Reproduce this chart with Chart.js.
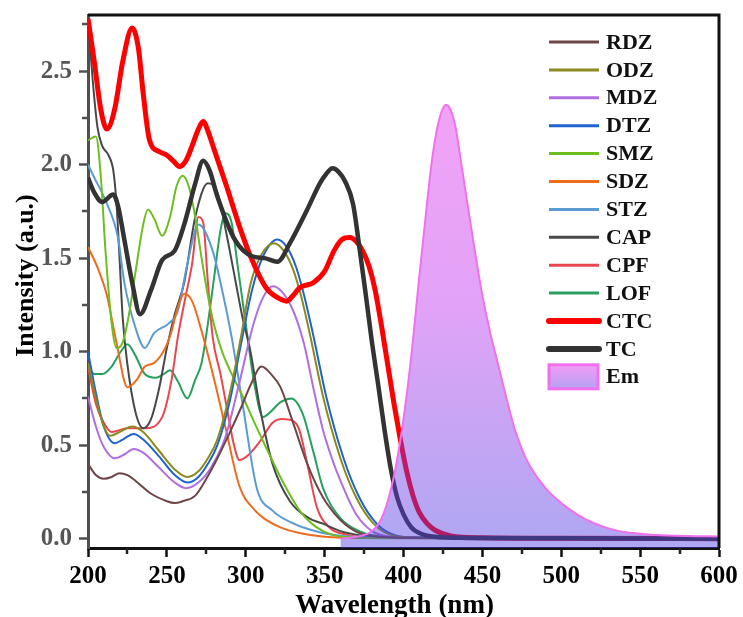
<!DOCTYPE html>
<html>
<head>
<meta charset="utf-8">
<title>UV-Vis absorption and emission spectra</title>
<script src="https://cdn.jsdelivr.net/npm/chart.js@4.4.1/dist/chart.umd.min.js"></script>
<style>
  html, body { margin: 0; padding: 0; background: #fff; }
  #spectra { display: block; }
</style>
</head>
<body>
<canvas id="spectra" width="743" height="617"></canvas>
<script>
// absorption spectra (wavelength in nm, intensity in a.u.)
const rdzWavelength = [200, 205, 210, 215, 220, 225, 230, 240, 250, 255, 260, 268, 275, 282, 290, 297, 303, 310, 316, 322, 330, 339, 349, 360, 372, 385, 400, 450, 500, 600];
const rdzIntensity  = [0.40, 0.34, 0.32, 0.33, 0.35, 0.34, 0.31, 0.24, 0.20, 0.19, 0.20, 0.23, 0.32, 0.43, 0.57, 0.70, 0.82, 0.92, 0.88, 0.81, 0.62, 0.40, 0.22, 0.10, 0.03, 0.01, 0.005, 0.003, 0.002, 0.0];

const odzWavelength = [200, 205, 210, 214, 220, 228, 235, 245, 255, 263, 270, 276, 282, 290, 297, 303, 310, 318, 324, 330, 335, 341, 349, 360, 370, 381, 392, 410, 500, 600];
const odzIntensity  = [0.94, 0.75, 0.60, 0.55, 0.57, 0.60, 0.57, 0.47, 0.37, 0.33, 0.36, 0.43, 0.53, 0.78, 1.08, 1.36, 1.52, 1.58, 1.54, 1.44, 1.30, 1.08, 0.76, 0.43, 0.22, 0.08, 0.02, 0.005, 0.002, 0.0];

const mdzWavelength = [200, 205, 210, 217, 223, 229, 235, 245, 255, 262, 270, 278, 287, 295, 305, 311, 317, 323, 330, 337, 343, 349, 355, 360, 370, 380, 392, 410, 500, 600];
const mdzIntensity  = [0.76, 0.60, 0.49, 0.43, 0.45, 0.48, 0.46, 0.38, 0.30, 0.27, 0.30, 0.38, 0.54, 0.80, 1.15, 1.29, 1.35, 1.32, 1.22, 1.04, 0.80, 0.58, 0.42, 0.31, 0.13, 0.04, 0.01, 0.004, 0.002, 0.0];

const dtzWavelength = [200, 205, 210, 217, 222, 229, 235, 245, 255, 263, 270, 276, 282, 290, 297, 304, 311, 320, 326, 332, 337, 343, 351, 362, 372, 383, 394, 410, 500, 600];
const dtzIntensity  = [1.00, 0.78, 0.60, 0.51, 0.53, 0.56, 0.53, 0.44, 0.34, 0.30, 0.33, 0.40, 0.50, 0.74, 1.04, 1.33, 1.51, 1.60, 1.56, 1.45, 1.30, 1.08, 0.76, 0.43, 0.22, 0.08, 0.02, 0.005, 0.002, 0.0];

const smzWavelength = [200, 205, 208, 211, 215, 218, 222, 226, 230, 235, 238, 242, 247, 252, 256, 260, 264, 268, 272, 276, 280, 285, 290, 297, 305, 315, 325, 335, 345, 355, 370, 400, 600];
const smzIntensity  = [2.13, 2.15, 1.95, 1.55, 1.15, 1.02, 1.05, 1.20, 1.42, 1.68, 1.76, 1.71, 1.62, 1.72, 1.88, 1.94, 1.88, 1.72, 1.50, 1.30, 1.14, 1.00, 0.90, 0.78, 0.63, 0.45, 0.28, 0.14, 0.06, 0.02, 0.005, 0.002, 0.0];

const sdzWavelength = [200, 206, 212, 218, 225, 231, 236, 242, 249, 253, 257, 261, 266, 272, 280, 287, 296, 306, 313, 322, 334, 350, 380, 600];
const sdzIntensity  = [1.56, 1.45, 1.30, 1.05, 0.81, 0.85, 0.92, 0.94, 1.02, 1.11, 1.24, 1.31, 1.27, 1.11, 0.85, 0.60, 0.28, 0.15, 0.10, 0.06, 0.03, 0.01, 0.003, 0.0];

const stzWavelength = [200, 204, 211, 219, 223, 230, 236, 242, 251, 257, 263, 270, 279, 285, 291, 298, 307, 317, 328, 340, 360, 400, 600];
const stzIntensity  = [2.00, 1.93, 1.81, 1.61, 1.37, 1.13, 1.02, 1.10, 1.15, 1.22, 1.47, 1.68, 1.54, 1.33, 1.08, 0.72, 0.27, 0.15, 0.09, 0.05, 0.015, 0.003, 0.0];

const capWavelength = [200, 203, 206, 209, 213, 216, 218, 220, 222, 225, 230, 235, 240, 245, 250, 255, 261, 268, 276, 282, 288, 293, 298, 303, 309, 317, 328, 340, 349, 360, 375, 400, 600];
const capIntensity  = [2.78, 2.45, 2.20, 2.10, 2.05, 1.97, 1.80, 1.50, 1.18, 0.93, 0.68, 0.59, 0.64, 0.80, 1.02, 1.20, 1.37, 1.72, 1.90, 1.85, 1.62, 1.40, 1.18, 1.00, 0.70, 0.40, 0.20, 0.11, 0.08, 0.04, 0.015, 0.004, 0.0];

const cpfWavelength = [200, 205, 210, 215, 225, 236, 247, 253, 257, 262, 266, 270, 273, 276, 279, 284, 288, 292, 296, 302, 309, 317, 323, 330, 334, 339, 345, 353, 365, 380, 600];
const cpfIntensity  = [0.92, 0.72, 0.62, 0.57, 0.59, 0.59, 0.65, 0.85, 1.08, 1.30, 1.47, 1.72, 1.69, 1.37, 1.08, 0.88, 0.70, 0.52, 0.42, 0.45, 0.52, 0.62, 0.64, 0.63, 0.58, 0.40, 0.17, 0.06, 0.02, 0.005, 0.0];

const lofWavelength = [200, 204, 209, 215, 220, 225, 230, 236, 243, 248, 252, 257, 263, 268, 272, 276, 280, 284, 287, 291, 295, 300, 305, 311, 316, 322, 329, 336, 343, 349, 360, 372, 390, 600];
const lofIntensity  = [0.92, 0.88, 0.88, 0.92, 0.99, 1.04, 0.98, 0.88, 0.86, 0.88, 0.90, 0.84, 0.75, 0.85, 0.94, 1.15, 1.40, 1.65, 1.74, 1.69, 1.45, 1.15, 0.85, 0.65, 0.68, 0.73, 0.75, 0.67, 0.46, 0.27, 0.11, 0.04, 0.01, 0.0];

const ctcWavelength = [200, 204, 208, 212, 217, 222, 228, 232, 235, 239, 245, 250, 254, 258, 262, 266, 270, 273, 276, 280, 284, 288, 296, 303, 313, 320, 326, 330, 334, 343, 350, 356, 361, 366, 370, 374, 378, 382, 386, 390, 394, 398, 402, 406, 410, 415, 420, 430, 450, 500, 600];
const ctcIntensity  = [2.78, 2.55, 2.30, 2.19, 2.30, 2.55, 2.73, 2.62, 2.38, 2.13, 2.07, 2.05, 2.02, 1.99, 2.02, 2.10, 2.19, 2.23, 2.18, 2.08, 1.98, 1.88, 1.67, 1.51, 1.34, 1.29, 1.27, 1.30, 1.34, 1.37, 1.43, 1.54, 1.60, 1.61, 1.59, 1.54, 1.46, 1.33, 1.14, 0.93, 0.72, 0.53, 0.36, 0.23, 0.14, 0.08, 0.045, 0.015, 0.005, 0.002, 0.0];

const tcWavelength = [200, 204, 209, 216, 219, 223, 228, 233, 240, 247, 255, 261, 268, 273, 277, 282, 293, 304, 312, 320, 328, 339, 347, 351, 355, 359, 363, 368, 372, 376, 380, 384, 388, 392, 396, 400, 405, 410, 420, 440, 500, 600];
const tcIntensity  = [1.93, 1.85, 1.80, 1.84, 1.78, 1.60, 1.37, 1.20, 1.33, 1.49, 1.54, 1.68, 1.90, 2.02, 1.97, 1.83, 1.60, 1.51, 1.50, 1.48, 1.58, 1.76, 1.90, 1.95, 1.98, 1.96, 1.91, 1.79, 1.56, 1.31, 1.05, 0.82, 0.58, 0.37, 0.22, 0.13, 0.06, 0.03, 0.01, 0.004, 0.002, 0.0];

// emission band
const emWavelength = [360, 370, 380, 385, 390, 395, 400, 405, 410, 415, 418, 421, 424, 427, 430, 433, 436, 440, 445, 450, 455, 460, 465, 470, 475, 480, 490, 500, 510, 520, 530, 540, 560, 580, 600];
const emIntensity  = [0.0, 0.01, 0.04, 0.09, 0.20, 0.38, 0.64, 0.98, 1.40, 1.80, 2.02, 2.18, 2.28, 2.32, 2.29, 2.20, 2.04, 1.82, 1.55, 1.30, 1.10, 0.93, 0.76, 0.60, 0.48, 0.39, 0.27, 0.19, 0.13, 0.085, 0.055, 0.035, 0.02, 0.014, 0.012];

const xMinorTicks = [225, 275, 325, 375, 425, 475, 525, 575];
const yMinorTicks = [0.25, 0.75, 1.25, 1.75, 2.25, 2.75];

const SERIF = "'Liberation Serif', 'Times New Roman', serif";

function points(wl, val) {
  return wl.map((x, i) => ({ x: x, y: val[i] }));
}

function thinLine(label, wl, val, color) {
  return {
    label: label,
    data: points(wl, val),
    borderColor: color,
    borderWidth: 2,
    order: 3,
    legendWidth: 3,
  };
}

function emGradient(context) {
  const chart = context.chart;
  const area = chart.chartArea;
  if (!area) return "rgba(180,90,235,0.45)";
  const top = chart.scales.y.getPixelForValue(Math.max(...emIntensity));
  const g = chart.ctx.createLinearGradient(0, top, 0, area.bottom);
  g.addColorStop(0, "rgba(225,50,236,0.45)");
  g.addColorStop(0.45, "rgba(190,50,236,0.45)");
  g.addColorStop(1, "rgba(75,60,226,0.45)");
  return g;
}

const datasets = [
  thinLine("RDZ", rdzWavelength, rdzIntensity, "#6e4646"),
  thinLine("ODZ", odzWavelength, odzIntensity, "#8a8a1e"),
  thinLine("MDZ", mdzWavelength, mdzIntensity, "#b06ee0"),
  thinLine("DTZ", dtzWavelength, dtzIntensity, "#1f63cf"),
  thinLine("SMZ", smzWavelength, smzIntensity, "#6cbf1f"),
  thinLine("SDZ", sdzWavelength, sdzIntensity, "#f06a1c"),
  thinLine("STZ", stzWavelength, stzIntensity, "#5b9bd5"),
  thinLine("CAP", capWavelength, capIntensity, "#484848"),
  thinLine("CPF", cpfWavelength, cpfIntensity, "#e8474f"),
  thinLine("LOF", lofWavelength, lofIntensity, "#27a05e"),
  {
    label: "CTC",
    data: points(ctcWavelength, ctcIntensity),
    borderColor: "#ff0000",
    borderWidth: 5,
    order: 2,
    legendWidth: 6,
  },
  {
    label: "TC",
    data: points(tcWavelength, tcIntensity),
    borderColor: "#333333",
    borderWidth: 4.5,
    order: 1,
    legendWidth: 6,
  },
  {
    label: "Em",
    data: points(emWavelength, emIntensity),
    borderColor: "#f070f0",
    borderWidth: 2,
    backgroundColor: emGradient,
    fill: "start",
    order: 0,
    isBand: true,
  },
];

// minor ticks, top/right frame, axis titles and the in-plot legend
const decorPlugin = {
  id: "decor",
  afterDraw(chart) {
    const { ctx, chartArea: a, scales } = chart;
    ctx.save();

    ctx.strokeStyle = "#222";
    ctx.lineWidth = 2.5;
    ctx.beginPath();
    xMinorTicks.forEach((v) => {
      const px = Math.round(scales.x.getPixelForValue(v));
      ctx.moveTo(px, a.bottom);
      ctx.lineTo(px, a.bottom + 6);
    });
    ctx.stroke();
    ctx.strokeStyle = "#505050";
    ctx.beginPath();
    yMinorTicks.forEach((v) => {
      const py = Math.round(scales.y.getPixelForValue(v));
      ctx.moveTo(a.left, py);
      ctx.lineTo(a.left - 6, py);
    });
    ctx.stroke();

    ctx.strokeStyle = "#111";
    ctx.lineWidth = 3;
    ctx.beginPath();
    ctx.moveTo(a.left, a.top);
    ctx.lineTo(a.right, a.top);
    ctx.lineTo(a.right, a.bottom);
    ctx.stroke();

    ctx.fillStyle = "#000";
    ctx.font = "bold 27px " + SERIF;
    ctx.textAlign = "center";
    ctx.textBaseline = "alphabetic";
    ctx.fillText("Wavelength (nm)", (a.left + a.right) / 2 - 9, 613);

    ctx.save();
    ctx.translate(33, (a.top + a.bottom) / 2 - 6);
    ctx.rotate(-Math.PI / 2);
    ctx.font = "bold 26px " + SERIF;
    ctx.fillText("Intensity (a.u.)", 0, 0);
    ctx.restore();

    ctx.font = "bold 22px " + SERIF;
    ctx.textAlign = "left";
    ctx.textBaseline = "middle";
    chart.data.datasets.forEach((ds, i) => {
      const y = 42 + i * 27.9;
      if (ds.isBand) {
        const g = ctx.createLinearGradient(0, y - 12, 0, y + 12);
        g.addColorStop(0, "#f39cf5");
        g.addColorStop(1, "#b3a2f3");
        ctx.fillStyle = g;
        ctx.fillRect(549, y - 12, 49, 24);
        ctx.strokeStyle = ds.borderColor;
        ctx.lineWidth = 3;
        ctx.strokeRect(549, y - 12, 49, 24);
      } else {
        ctx.strokeStyle = ds.borderColor;
        ctx.lineWidth = ds.legendWidth;
        ctx.lineCap = ds.legendWidth > 4 ? "round" : "butt";
        ctx.beginPath();
        ctx.moveTo(549, y);
        ctx.lineTo(599, y);
        ctx.stroke();
      }
      ctx.fillStyle = "#111";
      ctx.fillText(ds.label, 606, y + 1);
    });

    ctx.restore();
  },
};

new Chart(document.getElementById("spectra"), {
  type: "line",
  data: { datasets: datasets },
  options: {
    responsive: false,
    animation: false,
    devicePixelRatio: 1,
    layout: { padding: { top: 15, right: 24, left: 0, bottom: 0 } },
    elements: {
      point: { radius: 0 },
      line: { cubicInterpolationMode: "monotone", fill: false },
    },
    plugins: {
      legend: { display: false },
      tooltip: { enabled: false },
    },
    scales: {
      x: {
        type: "linear",
        min: 200,
        max: 600,
        afterFit: (scale) => {
          scale.height = 69;
          scale.paddingLeft = 0;
          scale.paddingRight = 0;
        },
        ticks: {
          stepSize: 50,
          padding: 5,
          color: "#000",
          font: { family: SERIF, size: 25, weight: "bold" },
          maxRotation: 0,
        },
        grid: { drawOnChartArea: false, drawTicks: true, tickLength: 9, tickWidth: 2.5, tickColor: "#111" },
        border: { color: "#111", width: 3 },
      },
      y: {
        type: "linear",
        min: -0.05,
        max: 2.8,
        afterFit: (scale) => {
          scale.width = 88;
          scale.paddingTop = 0;
          scale.paddingBottom = 0;
        },
        ticks: {
          stepSize: 0.5,
          includeBounds: false,
          padding: 7,
          color: "#555",
          font: { family: SERIF, size: 25, weight: "bold" },
          callback: (v) => v.toFixed(1),
        },
        grid: { drawOnChartArea: false, drawTicks: true, tickLength: 9, tickWidth: 2.5, tickColor: "#505050" },
        border: { color: "#505050", width: 3 },
      },
    },
  },
  plugins: [decorPlugin],
});
</script>
</body>
</html>
